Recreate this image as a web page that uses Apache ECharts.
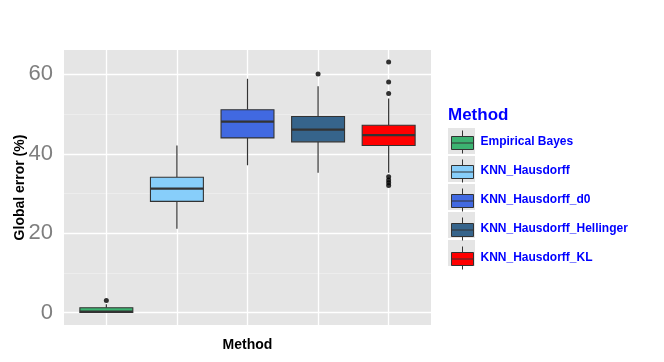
<!DOCTYPE html>
<html>
<head>
<meta charset="utf-8">
<script src="https://cdn.jsdelivr.net/npm/echarts@6/dist/echarts.min.js"></script>
<style>
  html, body { margin: 0; padding: 0; background: #fff; }
  #chart { width: 664px; height: 362px; }
</style>
</head>
<body>
<div id="chart"></div>
<script>
  // methods and box fill colours
  const methods = ['Empirical Bayes', 'KNN_Hausdorff', 'KNN_Hausdorff_d0', 'KNN_Hausdorff_Hellinger', 'KNN_Hausdorff_KL']
  const colors = ['#3CB371', '#87CEFA', '#4169E1', '#36648B', '#FF0000']

  // five-number summaries (Global error %)
  const whiskerLow = [0, 21.1, 37.1, 35.2, 35.2]
  const q1 = [0, 28.0, 44.0, 43.0, 42.1]
  const median = [0.2, 31.2, 48.1, 46.1, 44.7]
  const q3 = [1.2, 34.1, 51.1, 49.4, 47.2]
  const whiskerHigh = [2.1, 42.1, 58.9, 57.0, 53.9]

  // outliers: [method position, value]
  const outliers = [[1, 3.0], [4, 60.1], [5, 63.1], [5, 58.1], [5, 55.2], [5, 34.2], [5, 33.4], [5, 32.7], [5, 32.0]]

  // grid lines
  const majorY = [0, 20, 40, 60]
  const minorY = [10, 30, 50]
  const xTicks = [1, 2, 3, 4, 5]

  const font = 'Liberation Sans, Arial, Helvetica, sans-serif'
  const legendLeft = 451
  const legendTop = 130
  const legendPitch = 28

  const chart = echarts.init(document.getElementById('chart'))

  const boxSeries = methods.map(function (name, i) {
    return {
      name: name,
      type: 'custom',
      z: 3,
      itemStyle: { color: colors[i] },
      data: [[i + 1, whiskerLow[i], q1[i], median[i], q3[i], whiskerHigh[i]]],
      renderItem: function (params, api) {
        const x = api.value(0)
        const lo = api.coord([x, api.value(1)])
        const p1 = api.coord([x, api.value(2)])
        const md = api.coord([x, api.value(3)])
        const p3 = api.coord([x, api.value(4)])
        const hi = api.coord([x, api.value(5)])
        const w = api.size([0.75, 0])[0]
        const edge = '#333333'
        return {
          type: 'group',
          children: [
            { type: 'line', shape: { x1: hi[0], y1: hi[1], x2: p3[0], y2: p3[1] }, style: { stroke: edge, lineWidth: 1.2 } },
            { type: 'line', shape: { x1: p1[0], y1: p1[1], x2: lo[0], y2: lo[1] }, style: { stroke: edge, lineWidth: 1.2 } },
            { type: 'rect', shape: { x: p3[0] - w / 2, y: p3[1], width: w, height: p1[1] - p3[1] },
              style: { fill: api.visual('color'), stroke: edge, lineWidth: 1.1 } },
            { type: 'line', shape: { x1: md[0] - w / 2, y1: md[1], x2: md[0] + w / 2, y2: md[1] }, style: { stroke: edge, lineWidth: 2.2 } }
          ]
        }
      }
    }
  })

  const keyBoxes = methods.map(function (m, i) {
    return {
      type: 'rect',
      z: -1,
      shape: { x: legendLeft - 3, y: legendTop - 2 + i * legendPitch, width: 27, height: 26 },
      style: { fill: '#E5E5E5' }
    }
  })

  chart.setOption({
    animation: false,
    textStyle: { fontFamily: font },
    title: {
      text: 'Method',
      left: 448,
      top: 107,
      padding: 0,
      textStyle: { color: '#0000FF', fontSize: 17, fontWeight: 'bold', fontFamily: font }
    },
    legend: {
      data: methods,
      orient: 'vertical',
      left: legendLeft,
      top: legendTop,
      padding: 0,
      itemWidth: 22,
      itemHeight: 23,
      itemGap: legendPitch - 23,
      icon: 'path://M11,0L11,6M0,6L22,6L22,19L0,19ZM0,12.5L22,12.5M11,19L11,23',
      itemStyle: { borderColor: '#333333', borderWidth: 1 },
      selectedMode: false,
      textStyle: { color: '#0000FF', fontSize: 12, fontWeight: 'bold', fontFamily: font, padding: [0, 0, 0, 2] }
    },
    graphic: keyBoxes,
    grid: {
      left: 64,
      right: 233,
      top: 50,
      bottom: 37,
      outerBoundsMode: 'none',
      containLabel: false,
      show: true,
      backgroundColor: '#E5E5E5',
      borderWidth: 0
    },
    xAxis: {
      type: 'value',
      min: 0.4,
      max: 5.6,
      name: 'Method',
      nameLocation: 'middle',
      nameGap: 13,
      nameTextStyle: { color: '#000', fontSize: 14, fontWeight: 'bold', fontFamily: font },
      axisLine: { show: false },
      axisTick: { show: false },
      axisLabel: { show: false },
      splitLine: { show: false }
    },
    yAxis: {
      type: 'value',
      min: -3.15,
      max: 66.15,
      splitNumber: 3,
      name: 'Global error (%)',
      nameLocation: 'middle',
      nameRotate: 90,
      nameGap: 37,
      nameMoveOverlap: false,
      nameTextStyle: { color: '#000', fontSize: 14, fontWeight: 'bold', fontFamily: font },
      axisLine: { show: false },
      axisTick: { show: false },
      splitLine: { show: false },
      axisLabel: {
        color: '#7F7F7F',
        fontSize: 22,
        margin: 11,
        fontFamily: font,
        formatter: function (v) {
          return majorY.indexOf(Math.round(v * 100) / 100) >= 0 ? String(v) : ''
        }
      }
    },
    series: [
      {
        name: 'grid',
        type: 'scatter',
        z: 1,
        silent: true,
        data: [],
        markLine: {
          z: 1,
          silent: true,
          symbol: ['none', 'none'],
          label: { show: false },
          emphasis: { disabled: true },
          data: minorY.map(function (v) { return { yAxis: v, lineStyle: { color: '#F2F2F2', width: 0.6, type: 'solid' } } })
            .concat(majorY.map(function (v) { return { yAxis: v, lineStyle: { color: '#FFFFFF', width: 1.3, type: 'solid' } } }))
            .concat(xTicks.map(function (v) { return { xAxis: v, lineStyle: { color: '#FFFFFF', width: 1.3, type: 'solid' } } }))
        }
      }
    ].concat(boxSeries).concat([
      {
        name: 'outliers',
        type: 'scatter',
        z: 4,
        symbolSize: 5,
        itemStyle: { color: '#000000' },
        data: outliers
      }
    ])
  })
</script>
</body>
</html>
